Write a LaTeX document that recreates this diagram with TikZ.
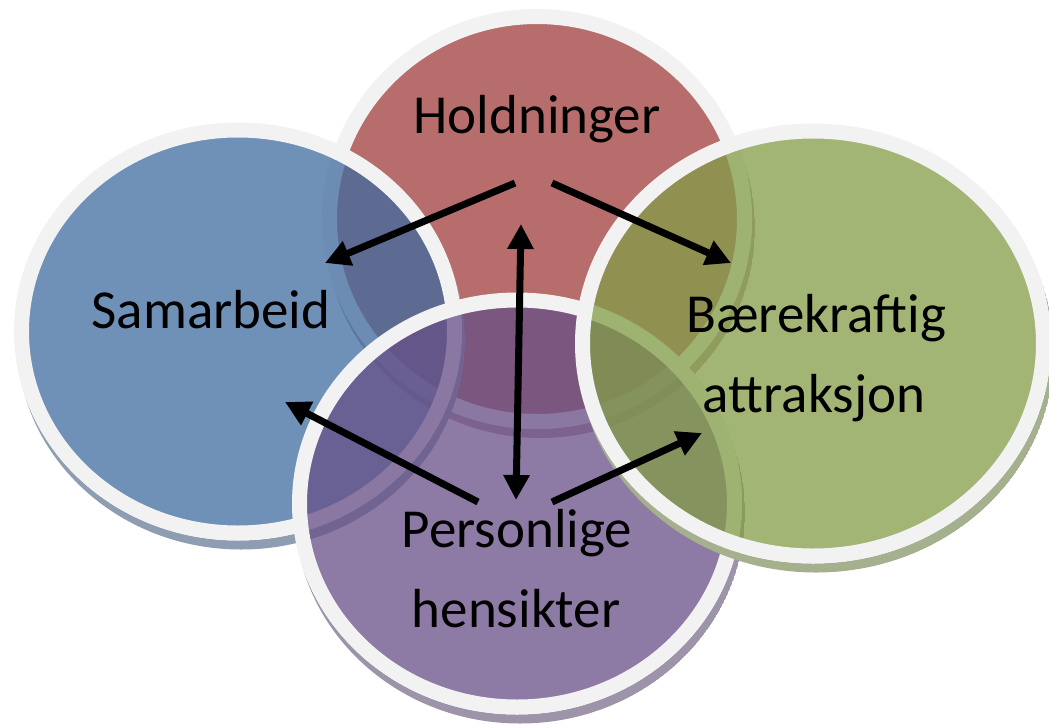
\documentclass[tikz,border=0pt]{standalone}
\usepackage{fontspec}
\setmainfont{Carlito}
\usetikzlibrary{arrows.meta}
\definecolor{redc}{HTML}{A03D3C}
\definecolor{bluec}{HTML}{406BA0}
\definecolor{greenc}{HTML}{839D48}
\definecolor{purplec}{HTML}{685088}
\definecolor{redsh}{HTML}{B89A9A}
\definecolor{bluesh}{HTML}{8E9DB1}
\definecolor{greensh}{HTML}{A4B08E}
\definecolor{purplesh}{HTML}{9E94AA}
\definecolor{rimc}{HTML}{F2F2F2}
\newcommand\vennblob[6]{%
  \begin{scope}
    \clip (#1+3,#2+9) ellipse [x radius=#3pt+15pt, y radius=#4pt+15pt];
    \fill[#6, even odd rule] (#1+3,#2+9) ellipse [x radius=#3pt+15pt, y radius=#4pt+15pt]
      (#1,#2) ellipse [x radius=#3pt+15pt, y radius=#4pt+15pt];
  \end{scope}
  \fill[#5, fill opacity=0.75] (#1,#2) ellipse [x radius=#3pt+7.5pt, y radius=#4pt+7.5pt];
  \draw[rimc, line width=15pt] (#1,#2) ellipse [x radius=#3pt+7.5pt, y radius=#4pt+7.5pt];
}
\begin{document}
\begin{tikzpicture}[x=1pt,y=-1pt,
  lbl/.style={font=\fontsize{55}{66}\selectfont, anchor=base, inner sep=0pt, text=black},
  arr/.style={line width=7pt, -{Triangle[length=25pt,width=25pt]}},
  darr/.style={line width=7pt, {Triangle[length=25pt,width=25pt]}-{Triangle[length=25pt,width=25pt]}}]
\useasboundingbox (0,0) rectangle (1049,726);
\fill[white] (0,0) rectangle (1049,726);
% circles, bottom to top
\vennblob{537}{219}{200}{195}{redc}{redsh}
\vennblob{238}{331.5}{209}{194}{bluec}{bluesh}
\vennblob{517}{503.5}{210}{196}{purplec}{purplesh}
\vennblob{813}{343.5}{223}{205}{greenc}{greensh}
% labels
\node[lbl] (hold) at (537,133) {Holdninger};
\node[lbl] (sam) at (211,328) {Samarbeid};
\node[lbl] (baer1) at (816,332) {Bærekraftig};
\node[lbl] (baer2) at (814,412) {attraksjon};
\node[lbl] (pers1) at (517,547) {Personlige};
\node[lbl] (pers2) at (516,627) {hensikter};
% arrow ends
\coordinate (h1) at (515,183);
\coordinate (s1) at (325,263);
\coordinate (h2) at (552,183);
\coordinate (b1) at (731,263);
\coordinate (h3) at (521,224);
\coordinate (p3) at (516,500);
\coordinate (p1) at (478,502);
\coordinate (s2) at (285,402);
\coordinate (p2) at (552,502);
\coordinate (b2) at (702,433);
\draw[arr] (h1) -- (s1);
\draw[arr] (h2) -- (b1);
\draw[darr] (h3) -- (p3);
\draw[arr] (p1) -- (s2);
\draw[arr] (p2) -- (b2);
\end{tikzpicture}
\end{document}
